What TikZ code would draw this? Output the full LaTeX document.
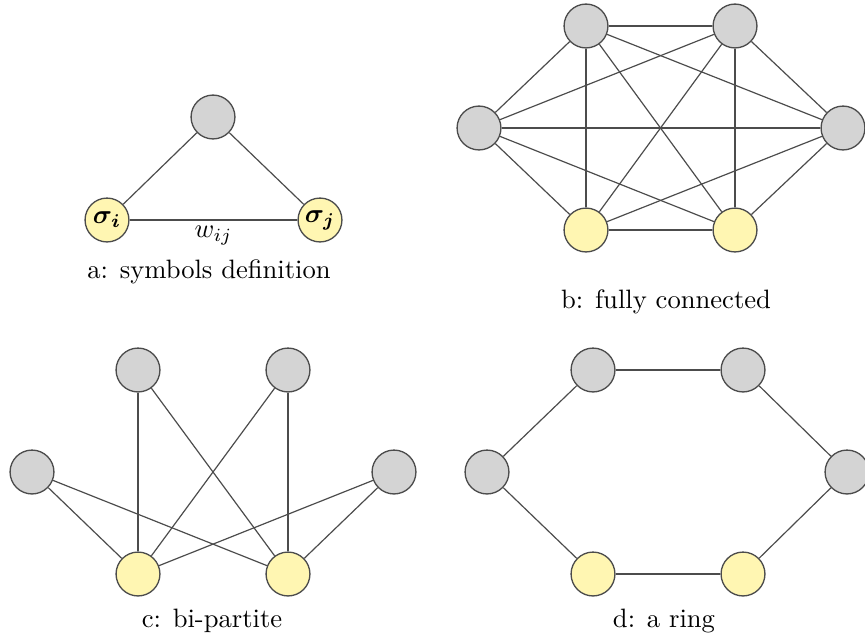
\documentclass[tikz,border=0pt]{standalone}
\usepackage{bm}
\definecolor{nodegray}{RGB}{212,212,212}
\definecolor{nodeyellow}{RGB}{255,246,178}
\begin{document}
\begin{tikzpicture}[x=0.01322cm,y=-0.01322cm,
    spin/.style={circle,draw=black!70,line width=0.5pt,fill=nodegray,minimum size=16.5pt,inner sep=0pt},
    vis/.style={spin,fill=nodeyellow},
    edge/.style={draw=black!70,line width=0.45pt}]
  \useasboundingbox (0,0) rectangle (865,636);
      % a: symbols definition
      \draw
        (213,117) node[spin] (a0){}
        (107,220) node[vis] (a1){$\bm{\sigma_i}$}
        (320,220) node[vis] (a2){$\bm{\sigma_j}$}
        (209,272) node (capa){a: symbols definition};
      \begin{scope}[edge]
        \draw (a0) to (a1);
        \draw (a0) to (a2);
        \draw (a1) to node[below,inner sep=2pt] (wij){$w_{ij}$} (a2);
      \end{scope}
      % b: fully connected
      \draw
        (586,26) node[spin] (b0){}
        (735,26) node[spin] (b1){}
        (479,128) node[spin] (b2){}
        (843,128) node[spin] (b3){}
        (586,230) node[vis] (b4){}
        (735,230) node[vis] (b5){}
        (666,302) node (capb){b: fully connected};
      \begin{scope}[edge]
        \foreach \i/\j in {0/1,0/2,0/3,0/4,0/5,1/2,1/3,1/4,1/5,2/3,2/4,2/5,3/4,3/5,4/5}
          \draw (b\i) to (b\j);
      \end{scope}
      % c: bi-partite
      \draw
        (138,370) node[spin] (c0){}
        (288,370) node[spin] (c1){}
        (32,472) node[spin] (c2){}
        (394,472) node[spin] (c3){}
        (138,574) node[vis] (c4){}
        (288,574) node[vis] (c5){}
        (212,621) node (capc){c: bi-partite};
      \begin{scope}[edge]
        \foreach \i in {0,1,2,3} {
          \draw (c\i) to (c4);
          \draw (c\i) to (c5);
        }
      \end{scope}
      % d: a ring
      \draw
        (593,370) node[spin] (d0){}
        (743,370) node[spin] (d1){}
        (487,472) node[spin] (d2){}
        (847,472) node[spin] (d3){}
        (593,574) node[vis] (d4){}
        (743,574) node[vis] (d5){}
        (664,621) node (capd){d: a ring};
      \begin{scope}[edge]
        \draw (d0) to (d1);
        \draw (d1) to (d3);
        \draw (d3) to (d5);
        \draw (d5) to (d4);
        \draw (d4) to (d2);
        \draw (d2) to (d0);
      \end{scope}
\end{tikzpicture}
\end{document}
